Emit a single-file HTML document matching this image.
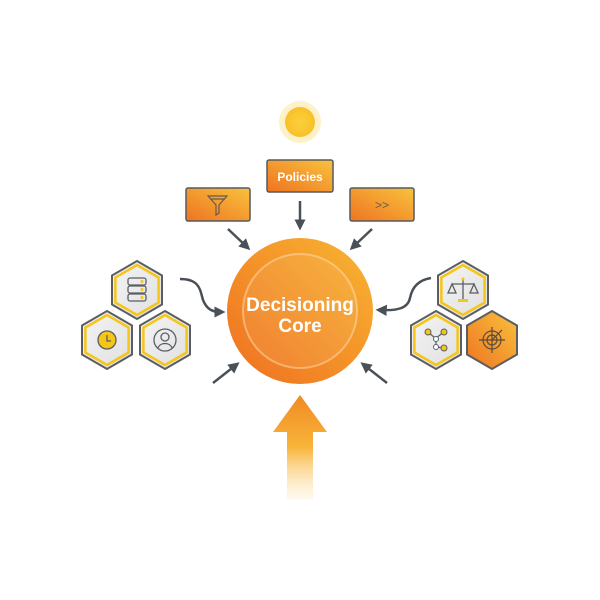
<!DOCTYPE html>
<html><head><style>
html,body{margin:0;padding:0;background:#fff;}
svg{display:block;}
text{font-family:"Liberation Sans",sans-serif;}
</style></head><body>
<svg width="600" height="600" viewBox="0 0 600 600" xmlns="http://www.w3.org/2000/svg">
<defs>
<linearGradient id="og" x1="0" y1="1" x2="1" y2="0">
<stop offset="0" stop-color="#ee7422"/><stop offset="1" stop-color="#f9c23c"/></linearGradient>
<linearGradient id="cg" x1="0" y1="1" x2="1" y2="0">
<stop offset="0" stop-color="#ef6f20"/><stop offset="1" stop-color="#f8b632"/></linearGradient>
<linearGradient id="ag" x1="0" y1="0" x2="0" y2="1">
<stop offset="0" stop-color="#f08a24"/><stop offset="0.5" stop-color="#f8b53a"/><stop offset="1" stop-color="#fde3b0" stop-opacity="0.2"/></linearGradient>
<radialGradient id="sg"><stop offset="0" stop-color="#fbd13c"/><stop offset="1" stop-color="#f8c02a"/></radialGradient>
<linearGradient id="hg" x1="0" y1="0" x2="1" y2="1"><stop offset="0" stop-color="#f4f4f4"/><stop offset="1" stop-color="#e0e0e0"/></linearGradient>
<marker id="ah" viewBox="0 0 10 10" refX="6" refY="5" markerWidth="4.5" markerHeight="4.5" orient="auto"><path d="M0,0 L10,5 L0,10 z" fill="#4a5058"/></marker>
<g id="hex"><polygon points="0,-29 25,-14.5 25,14.5 0,29 -25,14.5 -25,-14.5" fill="url(#hg)" stroke="#5a5e63" stroke-width="2"/><polygon points="0,-25 21.6,-12.5 21.6,12.5 0,25 -21.6,12.5 -21.6,-12.5" fill="none" stroke="#f5c518" stroke-width="2.5"/></g>
</defs>
<circle cx="300" cy="122" r="21" fill="#fdf1c8"/>
<circle cx="300" cy="122" r="15" fill="url(#sg)"/>
<rect x="267" y="160" width="66" height="32" rx="2" fill="url(#og)" stroke="#565a5f" stroke-width="1.5"/>
<text x="300" y="181" text-anchor="middle" font-size="12" font-weight="bold" fill="#fff">Policies</text>
<rect x="186" y="188" width="64" height="33" rx="2" fill="url(#og)" stroke="#565a5f" stroke-width="1.5"/>
<path d="M208,196 L227,196 L219,205 L219,213 L216,215 L216,205 Z M210,199 L225,199" fill="none" stroke="#6a5a4a" stroke-width="1.2"/>
<rect x="350" y="188" width="64" height="33" rx="2" fill="url(#og)" stroke="#565a5f" stroke-width="1.5"/>
<text x="382" y="209" text-anchor="middle" font-size="12" fill="#6a5a4a">&gt;&gt;</text>
<g stroke="#4a5058" stroke-width="2.5" fill="none" marker-end="url(#ah)">
<line x1="300" y1="201" x2="300" y2="226"/>
<line x1="228" y1="229" x2="247" y2="247"/>
<line x1="372" y1="229" x2="353" y2="247"/>
<line x1="213" y1="383" x2="236" y2="365"/>
<line x1="387" y1="383" x2="364" y2="365"/>
<path d="M180,279 C200,279 200,290 203,300 C207,310 213,312 221,312"/>
<path d="M431,278 C418,280 412,288 410,298 C408,308 398,311 380,310"/>
</g>
<circle cx="300" cy="311" r="73" fill="url(#cg)"/>
<circle cx="300" cy="311" r="57" fill="#ffffff" fill-opacity="0.07" stroke="#fde0b8" stroke-opacity="0.5" stroke-width="2"/>
<text x="300" y="311" text-anchor="middle" font-size="19" font-weight="bold" fill="#fff">Decisioning</text>
<text x="300" y="332" text-anchor="middle" font-size="19" font-weight="bold" fill="#fff">Core</text>
<path d="M300,395 L327,432 L313,432 L313,500 L287,500 L287,432 L273,432 Z" fill="url(#ag)"/>
<g transform="translate(137,290)"><use href="#hex"/>
<g fill="none" stroke="#5a5e63" stroke-width="1.3"><rect x="-9" y="-12" width="18" height="7" rx="2"/><rect x="-9" y="-4" width="18" height="7" rx="2"/><rect x="-9" y="4" width="18" height="7" rx="2"/></g>
<g fill="#f5c518"><circle cx="5" cy="-8.5" r="1.5"/><circle cx="5" cy="-0.5" r="1.5"/><circle cx="5" cy="7.5" r="1.5"/></g></g>
<g transform="translate(107,340)"><use href="#hex"/>
<circle r="9" fill="#f5c518" stroke="#5a5e63" stroke-width="1.3"/><path d="M0,-5 L0,1 L4,1" fill="none" stroke="#5a5e63" stroke-width="1.3"/></g>
<g transform="translate(165,340)"><use href="#hex"/>
<circle r="11" fill="none" stroke="#5a5e63" stroke-width="1.3"/><circle cy="-3" r="4" fill="none" stroke="#5a5e63" stroke-width="1.3"/><path d="M-7,8 C-5,2 5,2 7,8" fill="none" stroke="#5a5e63" stroke-width="1.3"/></g>
<g transform="translate(463,290)"><use href="#hex"/>
<g fill="none" stroke="#5a5e63" stroke-width="1.3"><line x1="0" y1="-11" x2="0" y2="10"/><line x1="-11" y1="-6" x2="11" y2="-6"/><path d="M-11,-6 L-15,3 L-7,3 Z M11,-6 L7,3 L15,3 Z"/></g>
<circle cy="-11" r="1.5" fill="#f5c518"/><rect x="-5" y="9" width="10" height="3" fill="#f5c518"/></g>
<g transform="translate(436,340)"><use href="#hex"/>
<g stroke="#5a5e63" stroke-width="1.2"><line x1="-8" y1="-8" x2="-1" y2="-2"/><line x1="8" y1="-8" x2="0" y2="-2"/><line x1="0" y1="0" x2="0" y2="6"/><line x1="0" y1="7" x2="8" y2="8"/></g>
<g fill="#f5c518" stroke="#5a5e63" stroke-width="1"><circle cx="-8" cy="-8" r="3"/><circle cx="8" cy="-8" r="3"/><circle cx="0" cy="-1" r="2.5" fill="#fff"/><circle cx="0" cy="7" r="2.5" fill="#fff"/><circle cx="8" cy="8" r="3"/></g></g>
<g transform="translate(492,340)"><polygon points="0,-29 25,-14.5 25,14.5 0,29 -25,14.5 -25,-14.5" fill="url(#og)" stroke="#5a5e63" stroke-width="2"/>
<g fill="none" stroke="#5a4a3a" stroke-width="1.2"><circle r="9"/><circle r="5"/><line x1="-13" y1="0" x2="13" y2="0"/><line x1="0" y1="-13" x2="0" y2="13"/><line x1="0" y1="0" x2="10" y2="-10"/></g></g>
</svg>
</body></html>
